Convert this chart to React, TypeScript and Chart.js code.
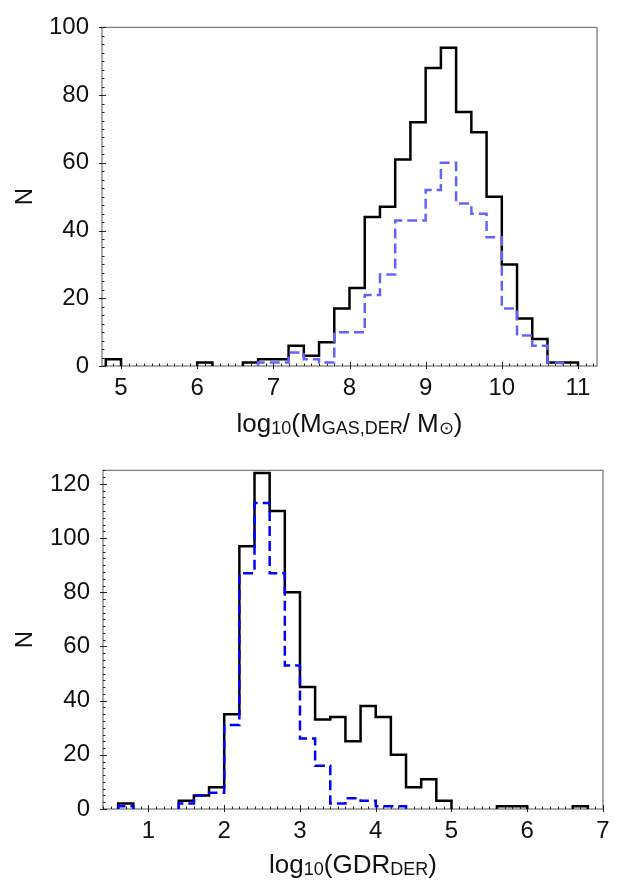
import { useEffect, useRef } from "react"
import { Chart, registerables } from "chart.js"

Chart.register(...registerables)

const FONT = "'Liberation Sans', Arial, sans-serif"

// Top panel: log10(M_GAS,DER / M_sun), 0.2 dex bins starting at 4.8
const gasBinStart = 4.8
const gasBinWidth = 0.2
const gasAll = [2, 0, 0, 0, 0, 0, 1, 0, 0, 1, 2, 2, 6, 3, 7, 17, 23, 44, 47, 61, 72, 88, 94, 75, 69, 50, 30, 14, 8, 1, 1]
const gasSub = [0, 0, 0, 0, 0, 0, 0, 0, 0, 0, 1, 1, 4, 2, 1, 10, 10, 21, 27, 43, 43, 52, 60, 48, 45, 38, 17, 9, 6, 1]
const gasXTicks = [5, 6, 7, 8, 9, 10, 11]
const gasYTicks = [0, 20, 40, 60, 80, 100]

// Bottom panel: log10(GDR_DER), 0.2 dex bins starting at 0.6
const gdrBinStart = 0.6
const gdrBinWidth = 0.2
const gdrAll = [2, 0, 0, 0, 3, 5, 8, 35, 97, 124, 110, 80, 45, 33, 34, 25, 38, 34, 20, 8, 11, 3, 0, 0, 0, 1, 1, 0, 0, 0, 1]
const gdrSub = [1, 0, 0, 0, 2, 5, 6, 31, 87, 113, 87, 53, 26, 16, 2, 4, 3, 1, 1]
const gdrXTicks = [1, 2, 3, 4, 5, 6, 7]
const gdrYTicks = [0, 20, 40, 60, 80, 100, 120]

type Pt = { x: number; y: number }

// outline of a histogram: each bin becomes a flat top between its two edges
function histPoints(start: number, width: number, counts: number[]): Pt[] {
  const pts: Pt[] = [{ x: start, y: 0 }]
  counts.forEach((c, i) => {
    pts.push({ x: start + i * width, y: c }, { x: start + (i + 1) * width, y: c })
  })
  pts.push({ x: start + counts.length * width, y: 0 })
  return pts
}

// box frame plus major / minor tick marks
const frameTicks = {
  id: "frameTicks",
  beforeDatasetsDraw(chart: any, _args: any, opts: any) {
    const { ctx, chartArea: a, scales } = chart
    const xs = scales.x
    const ys = scales.y
    ctx.save()
    ctx.strokeStyle = "#7d7d7d"
    ctx.lineWidth = 1.3
    ctx.strokeRect(a.left, a.top, a.right - a.left, a.bottom - a.top)

    ctx.strokeStyle = "#222"
    ctx.lineWidth = 1
    ctx.beginPath()
    for (let n = Math.ceil(xs.min / opts.xMinor); n * opts.xMinor <= xs.max + 1e-9; n++) {
      const px = Math.round(xs.getPixelForValue(n * opts.xMinor)) + 0.5
      ctx.moveTo(px, a.bottom)
      ctx.lineTo(px, a.bottom - 2.5)
    }
    for (let n = Math.ceil(ys.min / opts.yMinor); n * opts.yMinor <= ys.max + 1e-9; n++) {
      const py = Math.round(ys.getPixelForValue(n * opts.yMinor)) + 0.5
      ctx.moveTo(a.left, py)
      ctx.lineTo(a.left + 2.5, py)
    }
    xs.ticks.forEach((t: any) => {
      const px = Math.round(xs.getPixelForValue(t.value)) + 0.5
      ctx.moveTo(px, a.bottom + 3)
      ctx.lineTo(px, a.bottom - 4)
    })
    ys.ticks.forEach((t: any) => {
      const py = Math.round(ys.getPixelForValue(t.value)) + 0.5
      ctx.moveTo(a.left - 3, py)
      ctx.lineTo(a.left + 4, py)
    })
    ctx.stroke()
    ctx.restore()
  },
}

interface PanelProps {
  binStart: number
  binWidth: number
  all: number[]
  sub: number[]
  subColor: string
  xMin: number
  xMax: number
  yMax: number
  xTicks: number[]
  yTicks: number[]
  height: number
  padTop: number
  padRight: number
  yAxisWidth: number
  xAxisHeight: number
}

function HistPanel(p: PanelProps) {
  const chartRef = useRef<HTMLCanvasElement>(null)
  const chartInstance = useRef<Chart | null>(null)

  useEffect(() => {
    if (!chartRef.current) return
    if (chartInstance.current) chartInstance.current.destroy()
    const ctx = chartRef.current.getContext("2d")
    if (!ctx) return

    const hideBaseline = (c: any) =>
      c.p0.parsed.y === 0 && c.p1.parsed.y === 0 ? "rgba(0,0,0,0)" : undefined

    chartInstance.current = new Chart(ctx, {
      type: "line",
      data: {
        datasets: [
          {
            label: "subset",
            data: histPoints(p.binStart, p.binWidth, p.sub),
            borderColor: p.subColor,
            borderWidth: 2.5,
            borderDash: [10, 5],
            pointRadius: 0,
            tension: 0,
            fill: false,
            order: 0,
            clip: 0,
            segment: { borderColor: hideBaseline },
          },
          {
            label: "all",
            data: histPoints(p.binStart, p.binWidth, p.all),
            borderColor: "#000",
            borderWidth: 2.5,
            pointRadius: 0,
            tension: 0,
            fill: false,
            order: 1,
            clip: 0,
            segment: { borderColor: hideBaseline },
          },
        ],
      },
      options: {
        responsive: false,
        animation: false,
        layout: { padding: { top: p.padTop, right: p.padRight, left: 0, bottom: 0 } },
        plugins: {
          legend: { display: false },
          tooltip: { enabled: false },
          frameTicks: { xMinor: 0.1, yMinor: 2.5 },
        } as any,
        scales: {
          x: {
            type: "linear",
            min: p.xMin,
            max: p.xMax,
            grid: { display: false, drawTicks: false },
            border: { display: false },
            ticks: {
              padding: 8,
              maxRotation: 0,
              autoSkip: false,
              color: "#111",
              font: { family: FONT, size: 24 },
            },
            afterBuildTicks: (s: any) => {
              s.ticks = p.xTicks.map((v) => ({ value: v }))
            },
            afterFit: (s: any) => {
              s.height = p.xAxisHeight
            },
          },
          y: {
            type: "linear",
            min: 0,
            max: p.yMax,
            grid: { display: false, drawTicks: false },
            border: { display: false },
            ticks: {
              padding: 13,
              color: "#111",
              font: { family: FONT, size: 24 },
            },
            afterBuildTicks: (s: any) => {
              s.ticks = p.yTicks.map((v) => ({ value: v }))
            },
            afterFit: (s: any) => {
              s.width = p.yAxisWidth
            },
            title: {
              display: true,
              text: "N",
              color: "#111",
              padding: { top: 11, bottom: 0 },
              font: { family: FONT, size: 24 },
            },
          },
        },
      },
      plugins: [frameTicks],
    })

    return () => {
      if (chartInstance.current) {
        chartInstance.current.destroy()
        chartInstance.current = null
      }
    }
  }, [p])

  return <canvas ref={chartRef} width={628} height={p.height} style={{ display: "block" }} />
}

const subStyle: React.CSSProperties = { fontSize: 18, verticalAlign: "-2px", lineHeight: 0 }
const titleStyle: React.CSSProperties = {
  position: "absolute",
  textAlign: "center",
  fontFamily: FONT,
  fontSize: 26,
  lineHeight: "26px",
  color: "#111",
  whiteSpace: "nowrap",
}

const topPanel: PanelProps = {
  binStart: gasBinStart,
  binWidth: gasBinWidth,
  all: gasAll,
  sub: gasSub,
  subColor: "#6262ff",
  xMin: 4.75,
  xMax: 11.25,
  yMax: 100,
  xTicks: gasXTicks,
  yTicks: gasYTicks,
  height: 443,
  padTop: 14,
  padRight: 31,
  yAxisWidth: 102,
  xAxisHeight: 77,
}

const bottomPanel: PanelProps = {
  binStart: gdrBinStart,
  binWidth: gdrBinWidth,
  all: gdrAll,
  sub: gdrSub,
  subColor: "#0000ff",
  xMin: 0.4,
  xMax: 7,
  yMax: 125,
  xTicks: gdrXTicks,
  yTicks: gdrYTicks,
  height: 443,
  padTop: 13,
  padRight: 25,
  yAxisWidth: 103,
  xAxisHeight: 77,
}

export default function App() {
  return (
    <div style={{ position: "fixed", left: 0, top: 0, width: 628, height: 886, background: "#fff" }}>
      <div style={{ position: "absolute", left: 0, top: 0 }}>
        <HistPanel {...topPanel} />
      </div>
      <div style={{ ...titleStyle, left: 102, width: 495, top: 410 }}>
        log<sub style={subStyle}>10</sub>(M<sub style={subStyle}>GAS,DER</sub>/ M<sub style={subStyle}>⊙</sub>)
      </div>
      <div style={{ ...titleStyle, left: 0, top: 443 }}>
        <HistPanel {...bottomPanel} />
      </div>
      <div style={{ ...titleStyle, left: 103, width: 500, top: 851 }}>
        log<sub style={subStyle}>10</sub>(GDR<sub style={subStyle}>DER</sub>)
      </div>
    </div>
  )
}
